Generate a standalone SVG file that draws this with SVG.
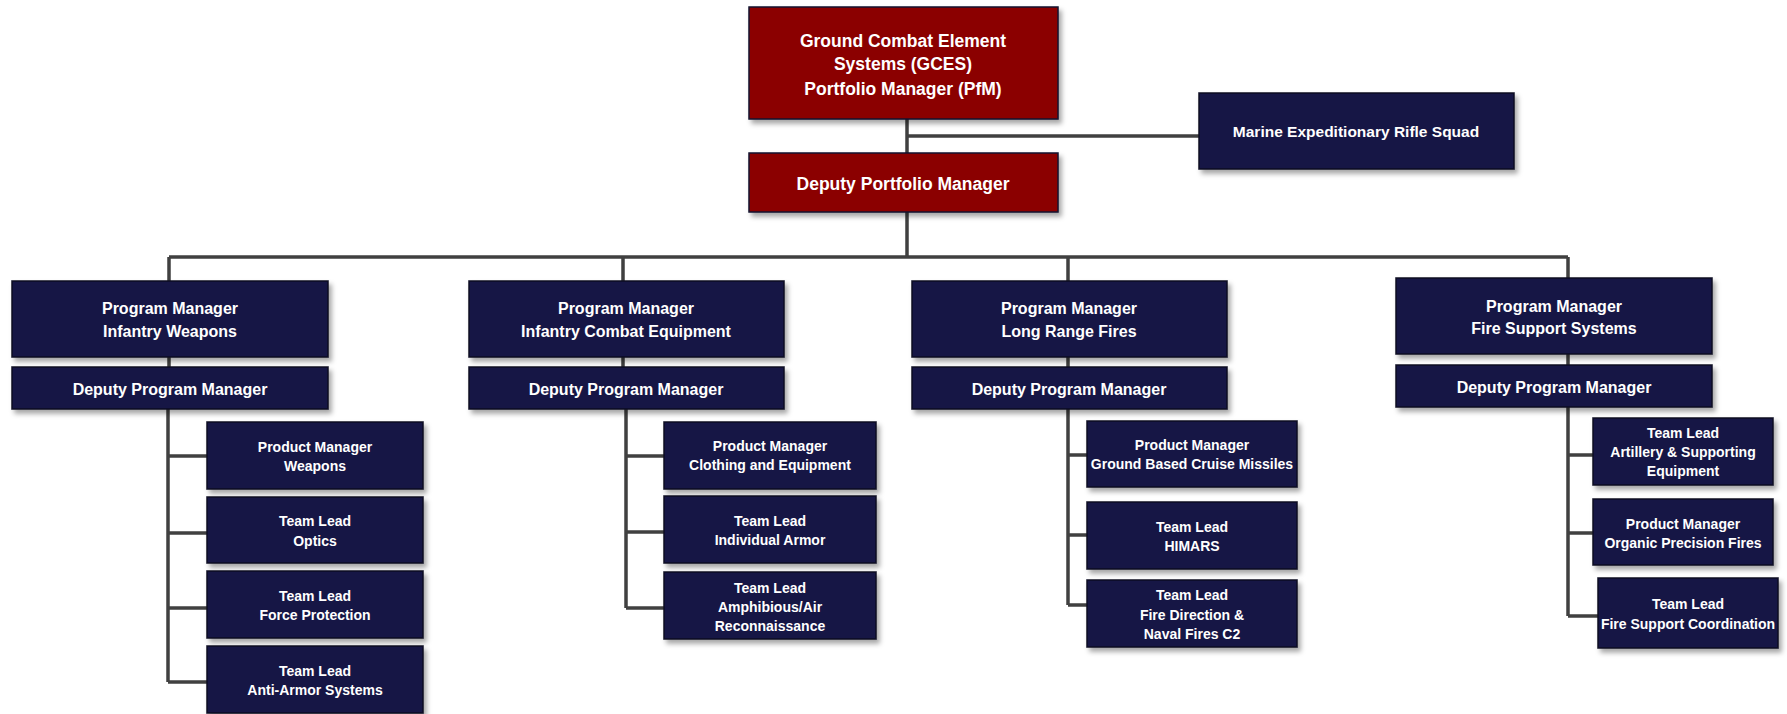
<svg xmlns="http://www.w3.org/2000/svg" width="1787" height="714" viewBox="0 0 1787 714">
<defs>
<filter id="sh" x="-10%" y="-20%" width="130%" height="150%">
<feDropShadow dx="3" dy="4" stdDeviation="2.5" flood-color="#000" flood-opacity="0.35"/>
</filter>
</defs>
<style>
.n rect{fill:#171744;stroke:#0b0b25;stroke-width:1.5;filter:url(#sh)}
.r rect{fill:#8b0000;stroke:#14142e;stroke-width:1.5;filter:url(#sh)}
text{font-family:"Liberation Sans",Arial,sans-serif;font-weight:bold;fill:#fff;text-anchor:middle}
.t1{font-size:17.5px}
.t2{font-size:16px}
.t3{font-size:14px}
.c{stroke:#404040;stroke-width:3.5;fill:none}
</style>
<g id="connectors" class="c">
<path d="M907 119V153M907 136H1199M907 212V257M169 257H1568M169 257V281M623 257V281M1068 257V281M1568 257V278"/>
<path d="M169 357V367M623 357V367M1068 357V367M1568 354V365"/>
<path d="M168 409V682M168 456H207M168 533H207M168 608H207M168 682H207"/>
<path d="M626 409V608M626 456H664M626 532H664M626 608H664"/>
<path d="M1068 409V605M1068 455H1087M1068 535H1087M1068 605H1087"/>
<path d="M1568 407V616M1568 455H1593M1568 533H1593M1568 616H1598"/>
</g>
<g id="gces" class="r"><rect x="749" y="7" width="309" height="112"/>
<text class="t1" x="903" y="47">Ground Combat Element</text>
<text class="t1" x="903" y="70">Systems (GCES)</text>
<text class="t1" x="903" y="95">Portfolio Manager (PfM)</text></g>
<g id="dpfm" class="r"><rect x="749" y="153" width="309" height="59"/>
<text class="t1" x="903" y="190">Deputy Portfolio Manager</text></g>
<g id="mers" class="n"><rect x="1199" y="93" width="315" height="76"/>
<text style="font-size:15.5px" x="1356" y="137">Marine Expeditionary Rifle Squad</text></g>

<g id="pm1" class="n"><rect x="12" y="281" width="316" height="76"/>
<text class="t2" x="170" y="314">Program Manager</text>
<text class="t2" x="170" y="337">Infantry Weapons</text></g>
<g id="dpm1" class="n"><rect x="12" y="367" width="316" height="42"/>
<text class="t2" x="170" y="395">Deputy Program Manager</text></g>
<g id="c1a" class="n"><rect x="207" y="422" width="216" height="67"/>
<text class="t3" x="315" y="452">Product Manager</text>
<text class="t3" x="315" y="471">Weapons</text></g>
<g id="c1b" class="n"><rect x="207" y="497" width="216" height="66"/>
<text class="t3" x="315" y="526">Team Lead</text>
<text class="t3" x="315" y="546">Optics</text></g>
<g id="c1c" class="n"><rect x="207" y="571" width="216" height="67"/>
<text class="t3" x="315" y="601">Team Lead</text>
<text class="t3" x="315" y="620">Force Protection</text></g>
<g id="c1d" class="n"><rect x="207" y="646" width="216" height="67"/>
<text class="t3" x="315" y="676">Team Lead</text>
<text class="t3" x="315" y="695">Anti-Armor Systems</text></g>

<g id="pm2" class="n"><rect x="469" y="281" width="315" height="76"/>
<text class="t2" x="626" y="314">Program Manager</text>
<text class="t2" x="626" y="337">Infantry Combat Equipment</text></g>
<g id="dpm2" class="n"><rect x="469" y="367" width="315" height="42"/>
<text class="t2" x="626" y="395">Deputy Program Manager</text></g>
<g id="c2a" class="n"><rect x="664" y="422" width="212" height="67"/>
<text class="t3" x="770" y="451">Product Manager</text>
<text class="t3" x="770" y="470">Clothing and Equipment</text></g>
<g id="c2b" class="n"><rect x="664" y="496" width="212" height="67"/>
<text class="t3" x="770" y="526">Team Lead</text>
<text class="t3" x="770" y="545">Individual Armor</text></g>
<g id="c2c" class="n"><rect x="664" y="572" width="212" height="67"/>
<text class="t3" x="770" y="593">Team Lead</text>
<text class="t3" x="770" y="612">Amphibious/Air</text>
<text class="t3" x="770" y="631">Reconnaissance</text></g>

<g id="pm3" class="n"><rect x="912" y="281" width="315" height="76"/>
<text class="t2" x="1069" y="314">Program Manager</text>
<text class="t2" x="1069" y="337">Long Range Fires</text></g>
<g id="dpm3" class="n"><rect x="912" y="367" width="315" height="42"/>
<text class="t2" x="1069" y="395">Deputy Program Manager</text></g>
<g id="c3a" class="n"><rect x="1087" y="421" width="210" height="66"/>
<text class="t3" x="1192" y="450">Product Manager</text>
<text class="t3" x="1192" y="469">Ground Based Cruise Missiles</text></g>
<g id="c3b" class="n"><rect x="1087" y="502" width="210" height="67"/>
<text class="t3" x="1192" y="532">Team Lead</text>
<text class="t3" x="1192" y="551">HIMARS</text></g>
<g id="c3c" class="n"><rect x="1087" y="580" width="210" height="67"/>
<text class="t3" x="1192" y="600">Team Lead</text>
<text class="t3" x="1192" y="620">Fire Direction &amp;</text>
<text class="t3" x="1192" y="639">Naval Fires C2</text></g>

<g id="pm4" class="n"><rect x="1396" y="278" width="316" height="76"/>
<text class="t2" x="1554" y="312">Program Manager</text>
<text class="t2" x="1554" y="334">Fire Support Systems</text></g>
<g id="dpm4" class="n"><rect x="1396" y="365" width="316" height="42"/>
<text class="t2" x="1554" y="393">Deputy Program Manager</text></g>
<g id="c4a" class="n"><rect x="1593" y="418" width="180" height="67"/>
<text class="t3" x="1683" y="438">Team Lead</text>
<text class="t3" x="1683" y="457">Artillery &amp; Supporting</text>
<text class="t3" x="1683" y="476">Equipment</text></g>
<g id="c4b" class="n"><rect x="1593" y="499" width="180" height="66"/>
<text class="t3" x="1683" y="529">Product Manager</text>
<text class="t3" x="1683" y="548">Organic Precision Fires</text></g>
<g id="c4c" class="n"><rect x="1598" y="578" width="180" height="70"/>
<text class="t3" x="1688" y="609">Team Lead</text>
<text class="t3" x="1688" y="629">Fire Support Coordination</text></g>
</svg>
